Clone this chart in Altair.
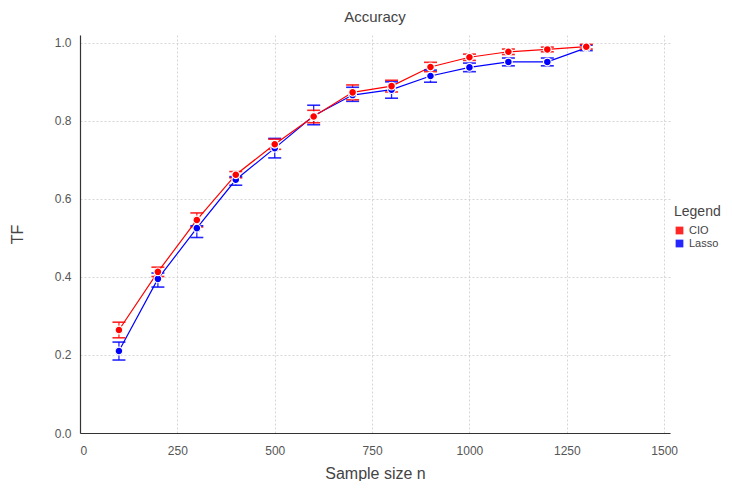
import altair as alt
import pandas as pd

sample_sizes = [100, 200, 300, 400, 500, 600, 700, 800, 900, 1000, 1100, 1200, 1300]
cio_mean = [0.264, 0.413, 0.546, 0.662, 0.740, 0.811, 0.873, 0.889, 0.938, 0.963, 0.977, 0.983, 0.990]
cio_err = [0.020, 0.012, 0.018, 0.008, 0.013, 0.016, 0.019, 0.015, 0.012, 0.008, 0.007, 0.006, 0.006]
lasso_mean = [0.210, 0.395, 0.525, 0.649, 0.730, 0.813, 0.866, 0.880, 0.915, 0.937, 0.951, 0.951, 0.987]
lasso_lo = [0.187, 0.374, 0.501, 0.635, 0.705, 0.790, 0.850, 0.858, 0.899, 0.926, 0.941, 0.941, 0.980]
lasso_hi = [0.233, 0.410, 0.531, 0.657, 0.755, 0.840, 0.886, 0.900, 0.930, 0.948, 0.961, 0.961, 0.994]

rows = []
for i, n in enumerate(sample_sizes):
    rows.append({"n": n, "method": "Lasso", "tf": lasso_mean[i], "lo": lasso_lo[i], "hi": lasso_hi[i], "ord": 0})
for i, n in enumerate(sample_sizes):
    rows.append({"n": n, "method": "CIO", "tf": cio_mean[i], "lo": cio_mean[i] - cio_err[i], "hi": cio_mean[i] + cio_err[i], "ord": 1})
df = pd.DataFrame(rows)

FONT = "Liberation Sans"
color = alt.Color(
    "method:N",
    scale=alt.Scale(domain=["CIO", "Lasso"], range=["#ff0000", "#0000ff"]),
    legend=alt.Legend(
        title="Legend", orient="none", legendX=594, legendY=170,
        symbolType="square", symbolSize=60, symbolStrokeWidth=0,
        titleFontSize=14, titleFontWeight="normal", titleColor="#444",
        labelFontSize=11, labelColor="#444", titlePadding=6, rowPadding=1,
    ),
)

x = alt.X(
    "n:Q",
    scale=alt.Scale(domain=[0, 1515], nice=False, zero=False),
    axis=alt.Axis(values=[0, 250, 500, 750, 1000, 1250, 1500], format="d", title="Sample size n"),
)
y = alt.Y(
    "tf:Q",
    scale=alt.Scale(domain=[0, 1.02], nice=False),
    axis=alt.Axis(values=[0, 0.2, 0.4, 0.6, 0.8, 1.0], format=".1f", title="TF"),
)

base = alt.Chart(df)
lines = base.mark_line(strokeWidth=1.2).encode(x=x, y=y, color=color, detail="method:N", order="ord:Q")
rules = base.mark_rule(strokeWidth=1.3, opacity=0.85).encode(x="n:Q", y="lo:Q", y2="hi:Q", color=color)
caps_lo = base.mark_tick(orient="horizontal", size=13, thickness=1.6, opacity=0.85).encode(x="n:Q", y="lo:Q", color=color)
caps_hi = base.mark_tick(orient="horizontal", size=13, thickness=1.6, opacity=0.85).encode(x="n:Q", y="hi:Q", color=color)
points = base.mark_point(filled=True, shape="circle", size=60, stroke="white", strokeWidth=1.2, opacity=1).encode(
    x="n:Q", y="tf:Q", fill=alt.Fill("method:N", scale=alt.Scale(domain=["CIO", "Lasso"], range=["#ff0000", "#0000ff"]), legend=None),
    order="ord:Q",
)

chart = (
    alt.layer(lines, rules, caps_lo, caps_hi, points)
    .properties(
        width=590, height=398,
        title=alt.TitleParams("Accuracy", fontSize=15, fontWeight="normal", color="#444", font=FONT, offset=10),
        autosize=alt.AutoSizeParams(type="none"),
        padding={"left": 72, "top": 27, "right": 54, "bottom": 48},
    )
    .configure_view(stroke=None)
    .configure_axis(
        labelFont=FONT, titleFont=FONT, labelColor="#555", titleColor="#444",
        labelFontSize=12, titleFontSize=16, titleFontWeight="normal",
        grid=True, gridColor="#cccccc", gridDash=[2, 2], gridWidth=0.8,
        domainColor="#333", domainWidth=1.2, ticks=False,
    )
    .configure_axisX(labelPadding=12, titlePadding=9)
    .configure_axisY(labelPadding=9, titlePadding=29)
    .configure_legend(labelFont=FONT, titleFont=FONT)
)

chart.save("out.html", embed_options={"renderer": "svg", "actions": False})
